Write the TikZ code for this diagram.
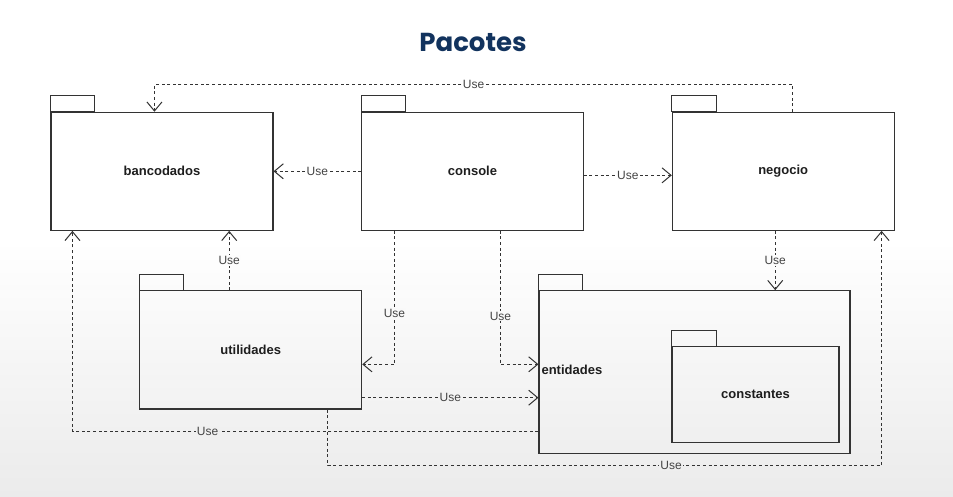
\documentclass[tikz,border=0pt]{standalone}
\usepackage{fontspec}
\setmainfont{Liberation Sans}
\newfontfamily\titlefont{Poppins}
\usetikzlibrary{arrows.meta,calc}
\definecolor{linec}{HTML}{333333}
\definecolor{txtc}{HTML}{1E1E1E}
\definecolor{usec}{HTML}{444444}
\definecolor{navy}{HTML}{12335E}
\definecolor{bgbottom}{HTML}{EBEBEB}
\definecolor{bgA}{HTML}{FDFDFD}
\definecolor{bgB}{HTML}{F9F9F9}
\definecolor{bgC}{HTML}{F3F3F3}
\definecolor{bgD}{HTML}{F0F0F0}
\definecolor{bgE}{HTML}{EEEEEE}
\begin{document}
\begin{tikzpicture}[x=1pt,y=-1pt,
  pkgbody/.style={draw=linec, line width=1.1pt, rectangle, inner sep=0pt, text=txtc, font=\fontsize{13}{15}\selectfont\bfseries},
  pkgtab/.style={draw=linec, line width=1.1pt},
  dep/.style={draw=linec, line width=0.9pt, dash pattern=on 3pt off 2.6pt, -{Straight Barb[length=9pt,width=15pt,line width=1pt]}},
  use/.style={font=\fontsize{12}{14}\selectfont, text=usec, inner sep=1pt, fill=#1},
  use/.default=white]
\useasboundingbox (0,0) rectangle (953,497);
\fill[white] (0,0) rectangle (953,497);
\shade[top color=white, bottom color=bgbottom] (0,240) rectangle (953,497);
% title
\node[font=\titlefont\bfseries\fontsize{26}{30}\selectfont, text=navy, anchor=base] (title) at (473,52) {Pacotes};
% packages
\node[pkgbody, minimum width=222pt, minimum height=118pt] (banco) at (162,171.3) {bancodados};
\draw[pkgtab] (banco.north west) rectangle ++(44,-16);
\node[pkgbody, minimum width=221.6pt, minimum height=118pt] (console) at (472.5,171.3) {console};
\draw[pkgtab] (console.north west) rectangle ++(44.3,-16);
\node[pkgbody, minimum width=221.7pt, minimum height=118pt] (negocio) at (783.2,171.3) {negocio};
\draw[pkgtab] (negocio.north west) rectangle ++(44.4,-16);
\node[pkgbody, minimum width=222pt, minimum height=118.3pt] (util) at (250.7,349.85) {utilidades};
\draw[pkgtab] (util.north west) rectangle ++(44.3,-16);
\node[pkgbody, minimum width=311pt, minimum height=163pt] (ent) at (694.5,372.2) {};
\draw[pkgtab] (ent.north west) rectangle ++(44.3,-16);
\node[pkgbody, draw=none, anchor=west] (entlabel) at (541,370) {entidades};
\node[pkgbody, minimum width=167pt, minimum height=95.6pt] (const) at (755.5,394.5) {constantes};
\draw[pkgtab] (const.north west) rectangle ++(44.7,-16);
% dependencies
\draw[dep] ([xshift=121pt]negocio.north west) -- ++(0,-27) -| ([xshift=104pt]banco.north west) node[use, pos=0.25] {Use};
\draw[dep] (console.west) -- (console.west -| banco.east) node[use, midway] {Use};
\draw[dep] ([yshift=-4pt]console.east) -- ([yshift=-4pt]console.east -| negocio.west) node[use, midway] {Use};
\draw[dep] ([xshift=-8pt]negocio.south) -- ([xshift=-8pt]negocio.south |- ent.north) node[use=bgA, midway] {Use};
\draw[dep] ([xshift=-21.5pt]util.north) -- ([xshift=-21.5pt]util.north |- banco.south) node[use=bgA, midway] {Use};
\draw[dep] ([xshift=33.3pt]console.south west) |- ([yshift=-14.5pt]util.east) node[use=bgB, pos=0.31] {Use};
\draw[dep] ([xshift=139.3pt]console.south west) |- ([yshift=7.9pt]ent.west) node[use=bgB, pos=0.32] {Use};
\draw[dep] ([yshift=-47.85pt]util.east) -- ([yshift=-47.85pt]util.east -| ent.west) node[use=bgC, midway] {Use};
\draw[dep] ([yshift=-58.8pt]ent.west) -| ([xshift=22pt]banco.south west) node[use=bgD, pos=0.355] {Use};
\draw[dep] ([xshift=188.6pt]util.south west) -- ++(0,56) -| ([xshift=-13pt]negocio.south east) node[use=bgE, pos=0.31] {Use};
\end{tikzpicture}
\end{document}
